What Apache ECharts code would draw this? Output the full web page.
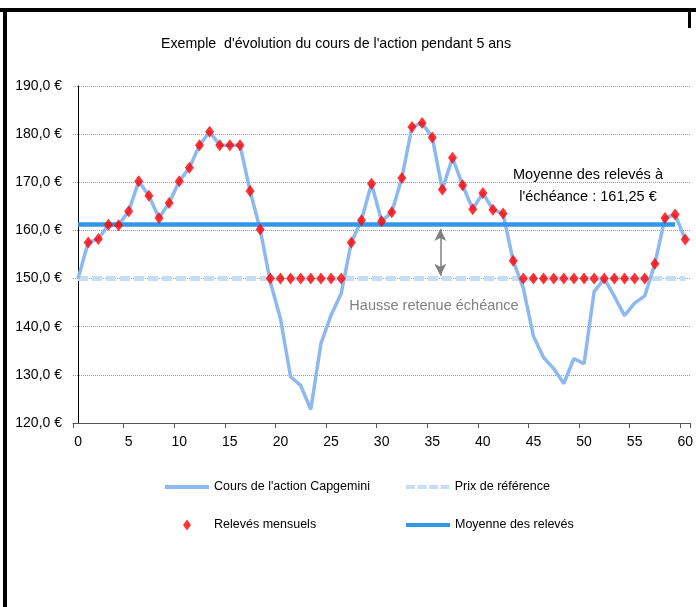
<!DOCTYPE html>
<html>
<head>
<meta charset="utf-8">
<script src="https://cdn.jsdelivr.net/npm/echarts@6/dist/echarts.min.js"></script>
<style>
  html, body { margin: 0; padding: 0; background: #fff; }
  #Chart_cours { width: 696px; height: 607px; }
</style>
</head>
<body>
<div id="Chart_cours"></div>
<script>
// mois 0..60
var categories = [];
for (var m = 0; m <= 60; m++) categories.push(String(m));

// cours de l'action
var cours = [
  150.0, 157.5, 158.2, 161.2, 161.1, 164.0, 170.2, 167.2, 162.6, 165.7,
  170.2, 173.0, 177.7, 180.5, 177.7, 177.7, 177.7, 168.2, 160.2, 149.3,
  141.7, 129.6, 127.8, 122.8, 136.5, 142.4, 146.9, 157.5, 162.1, 169.7,
  161.9, 163.8, 170.9, 181.5, 182.3, 179.3, 168.5, 175.1, 169.4, 164.4,
  167.8, 164.3, 163.5, 153.7, 148.0, 138.0, 133.6, 131.3, 128.2, 133.4,
  132.3, 147.3, 150.0, 146.3, 142.3, 144.9, 146.4, 153.1, 162.6, 163.3,
  158.1
];

// relevés mensuels (pas de relevé au mois 0)
var releves = [
  null, 157.5, 158.2, 161.2, 161.1, 164.0, 170.2, 167.2, 162.6, 165.7,
  170.2, 173.0, 177.7, 180.5, 177.7, 177.7, 177.7, 168.2, 160.2, 150.0,
  150.0, 150.0, 150.0, 150.0, 150.0, 150.0, 150.0, 157.5, 162.1, 169.7,
  161.9, 163.8, 170.9, 181.5, 182.3, 179.3, 168.5, 175.1, 169.4, 164.4,
  167.8, 164.3, 163.5, 153.7, 150.0, 150.0, 150.0, 150.0, 150.0, 150.0,
  150.0, 150.0, 150.0, 150.0, 150.0, 150.0, 150.0, 153.1, 162.6, 163.3,
  158.1
];

var prixReference = 150;
var moyenneReleves = 161.25;
var moisFinMoyenne = 59;

var yMin = 120, yMax = 190, yInterval = 10;

var fontFamily = "'Liberation Sans', Arial, sans-serif";
var fontColor = "#000";

// icônes de légende (boîte 44 de large)
var iconLigne = 'path://M0,0H44V4H0Z';
var iconTirets = 'path://M0,0H9V4H0Z M11.5,0H20.5V4H11.5Z M23,0H32V4H23Z M34.5,0H43.5V4H34.5Z';
var iconLosange = 'path://M0,5.5M44,5.5M22,0L26,5.5L22,11L18,5.5Z';

chart_cours();

function chart_cours(){

    var prix = categories.map(function(){ return prixReference; });
    var moyenne = categories.map(function(c, i){ return i <= moisFinMoyenne ? moyenneReleves : null; });

    var myChart = echarts.init(document.getElementById('Chart_cours'));

    function legendItem(name, icon, left, cy, h){
        return {
            data: [{ name: name, icon: icon }],
            left: left,
            top: cy - 8,
            padding: 0,
            itemWidth: 44,
            itemHeight: h,
            itemGap: 4,
            textStyle: { color: fontColor, fontSize: 12.5, fontFamily: fontFamily, lineHeight: 16 },
            selectedMode: false
        };
    }

    var option = {
        animation: false,
        backgroundColor: '#fff',
        title: {
            text: "Exemple  d'évolution du cours de l'action pendant 5 ans",
            left: 156,
            top: 32,
            textStyle: { color: fontColor, fontSize: 14.2, fontWeight: 'normal', fontFamily: fontFamily }
        },
        legend: [
            legendItem("Cours de l'action Capgemini", iconLigne, 165, 487, 4),
            legendItem("Prix de référence", iconTirets, 406, 487, 4),
            legendItem("Relevés mensuels", iconLosange, 165, 525, 11),
            legendItem("Moyenne des relevés", iconLigne, 406, 525, 4)
        ],
        grid: { left: 73, top: 86, width: 620, height: 337, containLabel: false },
        xAxis: [{
            type: 'category',
            data: categories,
            boundaryGap: true,
            axisLine: { lineStyle: { color: '#555', width: 1 } },
            axisTick: { show: true, interval: 4, length: 5, lineStyle: { color: '#555' } },
            axisLabel: { interval: 4, color: fontColor, fontSize: 14, fontFamily: fontFamily, margin: 12 },
            splitLine: { show: false }
        }, {
            // axe caché pour placer la flèche entre deux mois
            type: 'value',
            min: -0.5,
            max: 60.5,
            show: false
        }],
        yAxis: {
            type: 'value',
            min: yMin,
            max: yMax,
            interval: yInterval,
            axisLine: { show: true, lineStyle: { color: '#000', width: 1 } },
            axisTick: { show: false },
            axisLabel: {
                color: fontColor, fontSize: 14, fontFamily: fontFamily, margin: 11,
                formatter: function(v){ return v.toFixed(1).replace('.', ',') + ' €'; }
            },
            splitLine: { show: true, lineStyle: { color: '#9a9a9a', type: 'dotted', width: 1 } }
        },
        graphic: [
            { type: 'rect', shape: { x: 0, y: 8, width: 696, height: 4 }, style: { fill: '#000' } },
            { type: 'rect', shape: { x: 3, y: 8, width: 4, height: 600 }, style: { fill: '#000' } },
            { type: 'rect', shape: { x: 688, y: 8, width: 3, height: 20 }, style: { fill: '#000' } },
            {
                type: 'text', x: 588, y: 175,
                style: { text: 'Moyenne des relevés à', fill: '#000', fontSize: 14.5, fontFamily: fontFamily,
                         align: 'center', verticalAlign: 'middle' }
            },
            {
                type: 'text', x: 588, y: 197,
                style: { text: "l'échéance : 161,25 €", fill: '#000', fontSize: 14.5, fontFamily: fontFamily,
                         align: 'center', verticalAlign: 'middle' }
            },
            {
                type: 'text', x: 434, y: 306,
                style: { text: 'Hausse retenue échéance', fill: '#808080', fontSize: 14.5, fontFamily: fontFamily,
                         align: 'center', verticalAlign: 'middle' }
            }
        ],
        series: [{
            name: 'Prix de référence',
            type: 'line',
            data: prix,
            symbol: 'none',
            z: 2,
            lineStyle: { color: '#c5ddf5', width: 5, type: [10, 4] },
            itemStyle: { color: '#c5ddf5' }
        }, {
            name: "Cours de l'action Capgemini",
            type: 'line',
            data: cours,
            symbol: 'none',
            z: 3,
            lineStyle: { color: '#8cb9f0', width: 3.5 },
            itemStyle: { color: '#8cb9f0' }
        }, {
            name: 'Moyenne des relevés',
            type: 'line',
            data: moyenne,
            symbol: 'none',
            z: 4,
            lineStyle: { color: '#3296eb', width: 4.5 },
            itemStyle: { color: '#3296eb' }
        }, {
            name: 'Relevés mensuels',
            type: 'scatter',
            data: releves,
            symbol: 'diamond',
            symbolSize: [9, 12],
            z: 5,
            itemStyle: { color: '#ff0000' }
        }, {
            name: 'fleche',
            type: 'line',
            xAxisIndex: 1,
            data: [],
            silent: true,
            markLine: {
                silent: true,
                symbol: ['arrow', 'arrow'],
                symbolSize: [9, 12],
                label: { show: false },
                lineStyle: { color: '#808080', width: 1.5, type: 'solid' },
                data: [[{ coord: [35.8, 160.3] }, { coord: [35.8, 150.6] }]]
            }
        }]
    };
    myChart.setOption(option);
}
</script>
</body>
</html>
